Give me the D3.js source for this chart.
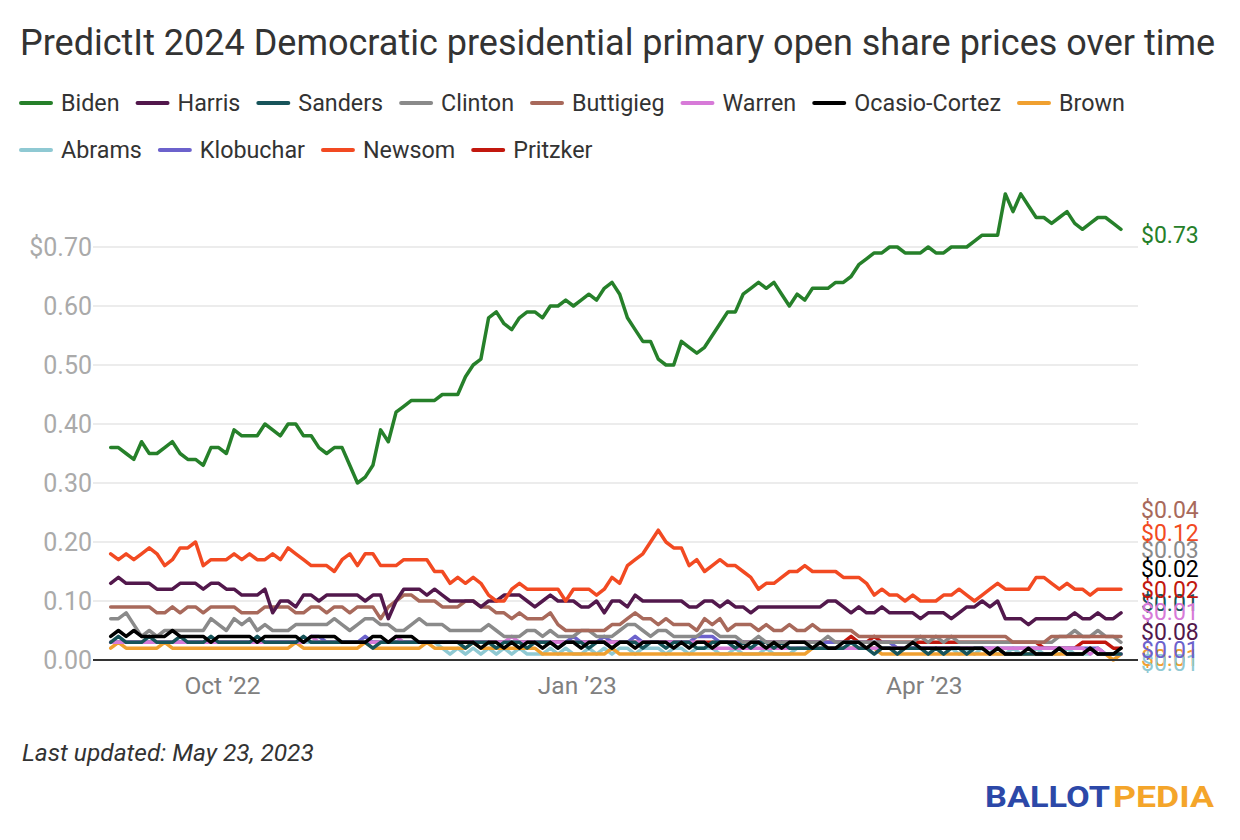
<!DOCTYPE html>
<html><head><meta charset="utf-8">
<script src="https://cdn.jsdelivr.net/npm/d3@7"></script>
<style>body{margin:0;background:#fff;} svg{font-family:Roboto, "Noto Sans", sans-serif;}</style>
</head><body><svg id="c" width="1240" height="840"></svg>
<script>
// ---------- DATA (prices in cents, one value every 2 days from Sep 2, 2022) ----------
const startDate = "2022-09-02";
const endDate = "2023-05-22";
const stepDays = 2;
const seriesNames = ["Biden","Harris","Sanders","Clinton","Buttigieg","Warren","Ocasio-Cortez","Brown","Abrams","Klobuchar","Newsom","Pritzker"];
const seriesColors = ["#26802a","#52184c","#17545a","#8a8a8a","#a8695b","#d77ad8","#000000","#f0a030","#8fc9d3","#6c62cc","#f24a22","#c2180e"];

const biden = [36,36,35,34,37,35,35,36,37,35, 34,34,33,36,36,35,39,38,38,38, 40,39,38,40,40,38,38,36,35,36,
  36,33,30,31,33,39,37,42,43,44, 44,44,44,45,45,45,48,50,51,58, 59,57,56,58,59,59,58,60,60,61,
  60,61,62,61,63,64,62,58,56,54, 54,51,50,50,54,53,52,53,55,57, 59,59,62,63,64,63,64,62,60,62,
  61,63,63,63,64,64,65,67,68,69, 69,70,70,69,69,69,70,69,69,70, 70,70,71,72,72,72,79,76,79,77,
  75,75,74,75,76,74,73,74,75,75, 74,73];
const harris = [13,14,13,13,13,13,12,12,12,13, 13,13,12,13,13,12,12,11,11,11, 12,8,10,10,9,11,11,10,11,11,
  11,11,11,10,11,11,7,10,12,12, 12,11,12,11,10,10,10,10,9,10, 10,11,11,11,10,9,10,11,10,10,
  10,9,9,10,8,10,10,9,11,10, 10,10,10,10,10,9,9,10,10,9, 10,9,9,8,9,9,9,9,9,9,
  9,9,9,10,10,9,8,9,8,8, 9,8,8,8,8,7,8,8,8,7, 8,9,9,10,9,10,7,7,7,6,
  7,7,7,7,7,8,7,7,8,7, 7,8];
const sanders = [3,4,3,3,3,4,3,3,3,4, 3,3,3,4,3,3,3,3,3,4, 3,3,3,3,3,4,3,3,3,3,
  3,3,3,3,2,3,3,3,3,3, 3,3,3,3,3,3,2,3,3,3, 2,3,3,3,2,3,3,3,2,3,
  3,3,2,3,3,2,3,3,3,2, 3,3,2,3,3,3,2,2,3,3, 3,2,3,2,3,3,2,3,2,2,
  2,2,2,2,2,2,3,2,2,1, 2,2,1,2,2,2,1,2,1,2, 2,1,2,2,1,2,1,1,1,1,
  1,1,1,2,1,1,1,2,1,1, 1,1];
const clinton = [7,7,8,6,4,5,4,5,5,5, 5,5,5,7,6,5,7,6,7,5, 6,5,5,5,6,6,6,6,6,7,
  6,5,6,7,7,6,6,5,5,6, 7,6,6,6,5,5,5,5,5,6, 5,4,4,4,5,5,4,5,4,4,
  4,5,5,4,4,4,5,6,6,5, 4,5,5,4,4,4,4,5,5,4, 4,4,3,3,4,3,3,3,3,3,
  3,3,3,4,3,3,3,3,3,3, 3,3,3,3,3,4,3,4,3,4, 3,3,3,3,3,3,3,3,3,3,
  3,3,3,4,4,5,4,4,5,4, 4,3];
const buttigieg = [9,9,9,9,9,9,8,8,9,8, 9,9,8,9,9,9,9,8,8,8, 9,9,9,9,8,8,9,9,8,9,
  9,8,9,9,9,7,9,10,11,11, 10,10,10,9,9,9,10,10,9,9, 8,8,7,8,7,7,7,8,6,5,
  5,5,5,5,5,6,6,7,8,7, 7,6,7,6,6,6,5,7,6,7, 5,6,6,6,5,6,5,5,6,5,
  5,6,5,5,5,5,5,4,4,4, 4,4,4,4,4,4,4,4,4,4, 4,4,4,4,4,4,4,3,3,3,
  3,3,4,4,4,4,4,4,4,4, 4,4];
const warren = [3,3,3,3,3,3,3,3,3,3, 3,3,3,3,3,3,3,3,3,3, 3,3,3,3,3,3,4,3,3,3,
  3,3,3,3,3,3,3,4,3,3, 3,3,3,3,3,3,3,3,3,3, 3,3,4,3,3,3,3,3,3,3,
  3,3,3,3,3,3,3,3,3,3, 3,3,3,3,3,3,3,3,2,2, 2,2,2,2,2,2,2,2,2,2,
  2,2,2,2,2,2,2,2,2,2, 2,2,2,2,2,2,2,2,2,2, 2,2,2,2,2,2,2,2,2,2,
  2,2,2,2,2,2,2,1,2,1, 1,1];
const ocasioCortez = [4,5,4,5,4,4,4,4,5,4, 4,4,4,3,4,4,4,4,4,3, 4,4,4,4,4,3,4,4,4,4,
  3,3,3,3,4,4,3,4,4,4, 3,3,3,3,3,3,3,3,2,3, 3,2,3,2,3,3,2,3,2,3,
  3,2,3,3,3,2,3,3,2,3, 3,3,3,2,3,2,3,3,2,3, 3,3,2,3,3,2,3,2,3,3,
  3,2,3,2,2,3,3,3,2,3, 2,2,2,2,3,2,2,2,2,2, 2,2,2,2,1,2,1,1,1,2,
  1,1,1,2,1,1,1,2,1,1, 1,2];
const brown = [2,3,2,2,2,2,2,3,2,2, 2,2,2,2,2,2,2,2,2,2, 2,2,2,2,3,2,2,2,2,2,
  2,2,2,3,2,2,2,2,2,2, 2,3,2,2,2,2,2,3,2,2, 2,2,2,2,2,2,1,1,1,1,
  1,1,1,1,1,2,1,1,1,1, 1,1,1,1,1,1,1,1,1,1, 1,1,1,1,1,1,1,1,1,1,
  1,2,2,2,2,2,2,2,2,2, 1,1,1,1,1,1,1,1,1,1, 1,1,1,1,1,1,1,1,1,1,
  1,1,1,1,1,1,1,2,1,1, 0,1];
const abrams = [3,3,3,3,3,3,3,3,3,3, 3,3,3,3,3,3,3,3,3,3, 3,3,3,3,3,3,3,3,3,3,
  3,3,3,3,3,3,3,3,3,3, 3,3,3,2,1,2,1,2,1,2, 1,2,1,2,1,1,1,2,1,2,
  1,1,2,1,2,1,2,2,1,2, 2,2,1,2,2,1,2,2,2,1, 1,2,1,1,1,2,1,1,1,2,
  2,2,2,2,2,2,2,2,2,2, 2,2,2,2,2,2,2,2,2,2, 1,2,1,2,2,1,1,2,1,1,
  2,1,1,1,2,1,1,1,2,1, 1,1];
const klobuchar = [3,3,3,3,3,3,3,3,3,3, 3,3,3,3,3,3,3,3,3,3, 3,3,3,3,3,3,4,4,3,3,
  3,3,3,4,3,3,3,3,3,3, 3,3,3,3,3,3,3,3,3,3, 3,3,3,3,3,3,3,3,3,3,
  4,3,3,3,4,3,3,3,4,3, 3,3,3,3,3,3,4,4,4,3, 3,3,3,3,3,3,3,3,3,3,
  3,3,3,3,3,3,3,3,3,3, 3,3,2,2,2,2,2,2,2,2, 2,2,2,2,2,2,2,2,2,2,
  2,2,2,2,2,2,2,2,2,1, 1,1];
const newsom = [18,17,18,17,18,19,18,16,17,19, 19,20,16,17,17,17,18,17,18,17, 17,18,17,19,18,17,16,16,16,15,
  17,18,16,18,18,16,16,16,17,17, 17,17,15,15,13,14,13,14,13,11, 10,10,12,13,12,12,12,12,12,10,
  12,12,12,11,12,14,13,16,17,18, 20,22,20,19,19,16,17,15,16,17, 16,16,15,14,12,13,13,14,15,15,
  16,15,15,15,15,14,14,14,13,11, 12,11,11,10,11,10,10,10,11,11, 12,11,10,11,12,13,12,12,12,12,
  14,14,13,12,13,12,12,11,12,12, 12,12];
const pritzker = [3,3,3,3,3,3,3,3,3,3, 3,3,3,3,3,3,3,3,3,3, 3,3,3,3,3,3,3,3,3,3,
  3,3,3,3,3,3,3,3,3,3, 3,3,3,3,3,3,3,3,3,3, 3,3,3,3,3,3,3,3,3,3,
  3,3,3,3,3,3,3,3,3,3, 3,3,3,3,3,3,3,3,3,3, 3,3,3,3,3,3,3,3,3,3,
  3,3,3,3,3,3,4,3,3,4, 3,3,3,3,3,3,3,3,3,3, 3,3,3,3,3,3,3,3,3,3,
  3,2,2,2,2,2,3,3,3,3, 2,2];

const yTicks = [0, 0.1, 0.2, 0.3, 0.4, 0.5, 0.6, 0.7];
const yTickLabels = ["0.00","0.10","0.20","0.30","0.40","0.50","0.60","$0.70"];
const xTicks = ["2022-10-01","2023-01-01","2023-04-01"];
const xTickLabels = ["Oct \u201922","Jan \u201923","Apr \u201923"];
const titleText = "PredictIt 2024 Democratic presidential primary open share prices over time";
const footnoteText = "Last updated: May 23, 2023";

// ---------- LAYOUT ----------
const allValues = [biden,harris,sanders,clinton,buttigieg,warren,ocasioCortez,brown,abrams,klobuchar,newsom,pritzker];
// end-label vertical positions (pixel layout, as placed in the original)
const labelY = [235, 632, 603, 550, 510, 612, 569, 658, 663, 650, 533, 590];
// stacking order of the lines (bottom first)
const drawOrder = ["Pritzker","Abrams","Brown","Klobuchar","Warren","Sanders","Clinton","Buttigieg","Ocasio-Cortez","Harris","Newsom","Biden"];

const parse = d3.utcParse("%Y-%m-%d");
const t0 = parse(startDate);
const series = seriesNames.map((name, k) => ({
  name, color: seriesColors[k],
  values: allValues[k].map((c, i) => ({date: d3.utcDay.offset(t0, i*stepDays), v: c/100}))
}));

const svg = d3.select("#c");
const plotLeft = 93, plotRight = 1138;
const x = d3.scaleUtc().domain([t0, parse(endDate)]).range([110.7, 1121]);
const y = d3.scaleLinear().domain([0, 0.7]).range([660, 247]);

// title
svg.append("text").attr("x", 20).attr("y", 55).attr("font-size", 36).attr("fill", "#333")
  .text(titleText);

// legend
const legendFont = 23.3;
let lx = 21, ly = 103;
const legend = svg.append("g");
series.forEach(s => {
  const g = legend.append("g");
  const txt = g.append("text").attr("font-size", legendFont).attr("fill", "#333")
    .attr("dy", "0.35em").text(s.name);
  const tw = txt.node().getComputedTextLength();
  const itemW = 31 + 9 + tw;
  if (lx + itemW > 1220) { lx = 21; ly += 47; }
  g.append("line").attr("x1", lx).attr("x2", lx + 30).attr("y1", ly).attr("y2", ly)
    .attr("stroke", s.color).attr("stroke-width", 4).attr("stroke-linecap", "round");
  txt.attr("x", lx + 40).attr("y", ly);
  lx += itemW + 18;
});

// grid
const grid = svg.append("g");
yTicks.forEach((t, i) => {
  if (t !== 0) {
    grid.append("line").attr("x1", plotLeft).attr("x2", plotRight)
      .attr("y1", y(t)).attr("y2", y(t)).attr("stroke", "#e6e6e6").attr("stroke-width", 1.5);
  }
  grid.append("text").attr("x", 92).attr("y", y(t)).attr("dy", "0.35em")
    .attr("text-anchor", "end").attr("font-size", 25).attr("fill", "#aaaaaa").text(yTickLabels[i]);
});

// x axis labels
xTicks.forEach((d, i) => {
  svg.append("text").attr("x", x(parse(d))).attr("y", 694).attr("text-anchor", "middle")
    .attr("font-size", 24.5).attr("fill", "#808080").text(xTickLabels[i]);
});

// lines
const line = d3.line().x(d => x(d.date)).y(d => y(d.v));
const linesG = svg.append("g");
drawOrder.map(n => series.find(s => s.name === n)).forEach(s => {
  linesG.append("path").datum(s.values).attr("d", line).attr("fill", "none")
    .attr("stroke", s.color).attr("stroke-width", 3.5)
    .attr("stroke-linejoin", "round").attr("stroke-linecap", "round");
});

// baseline
svg.append("line").attr("x1", plotLeft).attr("x2", plotRight).attr("y1", y(0)).attr("y2", y(0))
  .attr("stroke", "#333").attr("stroke-width", 2);

// end labels
const fmt = v => "$" + d3.format(".2f")(v);
series.forEach((s, k) => {
  const last = s.values[s.values.length - 1];
  svg.append("text").attr("x", 1141).attr("y", labelY[k]).attr("dy", "0.35em")
    .attr("font-size", 23).attr("fill", s.color).text(fmt(last.v));
});

// footer
svg.append("text").attr("x", 22).attr("y", 761).attr("font-size", 24.5).attr("font-style", "italic")
  .attr("fill", "#333").text(footnoteText);
const logo = svg.append("g").attr("font-weight", 700).attr("font-size", 30);
logo.append("text").attr("x", 985).attr("y", 807).attr("fill", "#2c48a8")
  .attr("textLength", 125).attr("lengthAdjust", "spacingAndGlyphs").text("BALLOT");
logo.append("text").attr("x", 1113).attr("y", 807).attr("fill", "#f4a52a")
  .attr("textLength", 101).attr("lengthAdjust", "spacingAndGlyphs").text("PEDIA");
</script>
</body></html>
